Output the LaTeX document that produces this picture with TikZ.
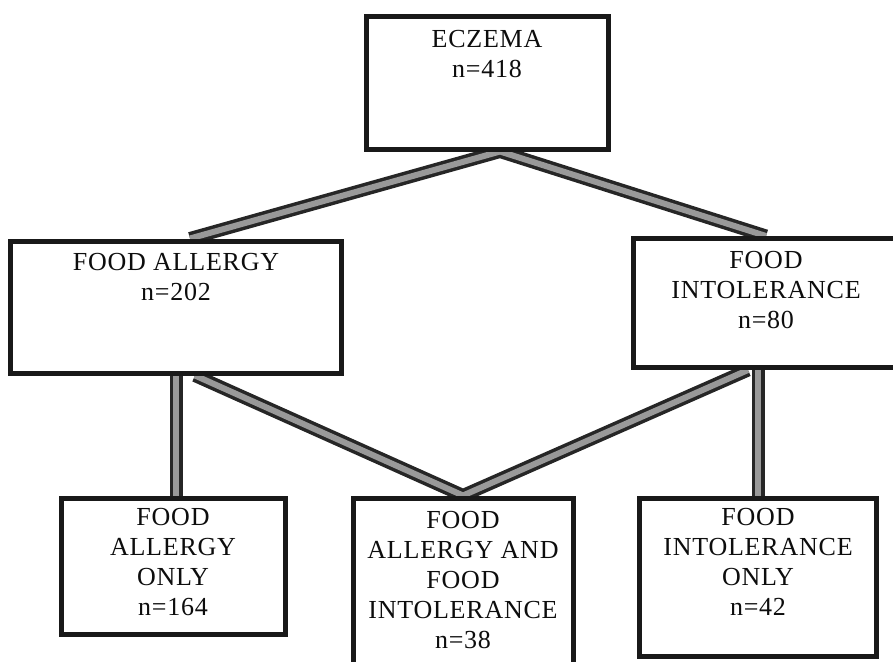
\documentclass[tikz,border=0pt]{standalone}
\usepackage{fontspec}
\newfontfamily\boxfont[LetterSpace=3]{Liberation Serif}
\usetikzlibrary{positioning,backgrounds}

\begin{document}
\begin{tikzpicture}[x=1pt,y=-1pt]
      \useasboundingbox (0,0) rectangle (893,661);
      \tikzset{
      box/.style = {draw=black!90, line width=5pt, fill=white, inner sep=0pt},
      boxtext/.style = {align=center, inner sep=0pt, text=black!95,
        font=\boxfont\fontsize{26}{30}\selectfont},
      link/.style = {draw=black!85, line width=3.5pt, double=black!40, double distance=6pt} }

      % boxes
      \node[box, minimum width=242, minimum height=132] (eczema) at (487,83) {};
      \node[box, minimum width=331, minimum height=132] (allergy) at (176,307) {};
      \node[box, minimum width=266, minimum height=129] (intol) at (766,303) {};
      \node[box, minimum width=224, minimum height=136] (allergyonly) at (173,566) {};
      \node[box, minimum width=220, minimum height=170] (both) at (463,583) {};
      \node[box, minimum width=237, minimum height=158] (intolonly) at (758,577) {};

      \node[boxtext, below=16pt of eczema.north] (eczema text) {ECZEMA\\n=418};
      \node[boxtext, below=15pt of allergy.north] (allergy text) {FOOD ALLERGY\\n=202};
      \node[boxtext, below=15pt of intol.north] (intol text) {FOOD\\INTOLERANCE\\n=80};
      \node[boxtext, below=13pt of allergyonly.north] (allergyonly text) {FOOD\\ALLERGY\\ONLY\\n=164};
      \node[boxtext, below=16pt of both.north] (both text) {FOOD\\ALLERGY AND\\FOOD\\INTOLERANCE\\n=38};
      \node[boxtext, below=13pt of intolonly.north] (intolonly text) {FOOD\\INTOLERANCE\\ONLY\\n=42};

      % links
      \begin{scope}[on background layer]
      \draw[link] ([xshift=14pt]allergy.north) -- ([xshift=13pt]eczema.south) -- (intol.north);
      \draw[link] (allergy.south) -- (allergy.south |- allergyonly.north);
      \draw[link] ([xshift=19pt]allergy.south) -- (both.north) -- ([xshift=-18pt]intol.south);
      \draw[link] (intol.south -| intolonly.north) -- (intolonly.north);
      \end{scope}
\end{tikzpicture}
\end{document}
